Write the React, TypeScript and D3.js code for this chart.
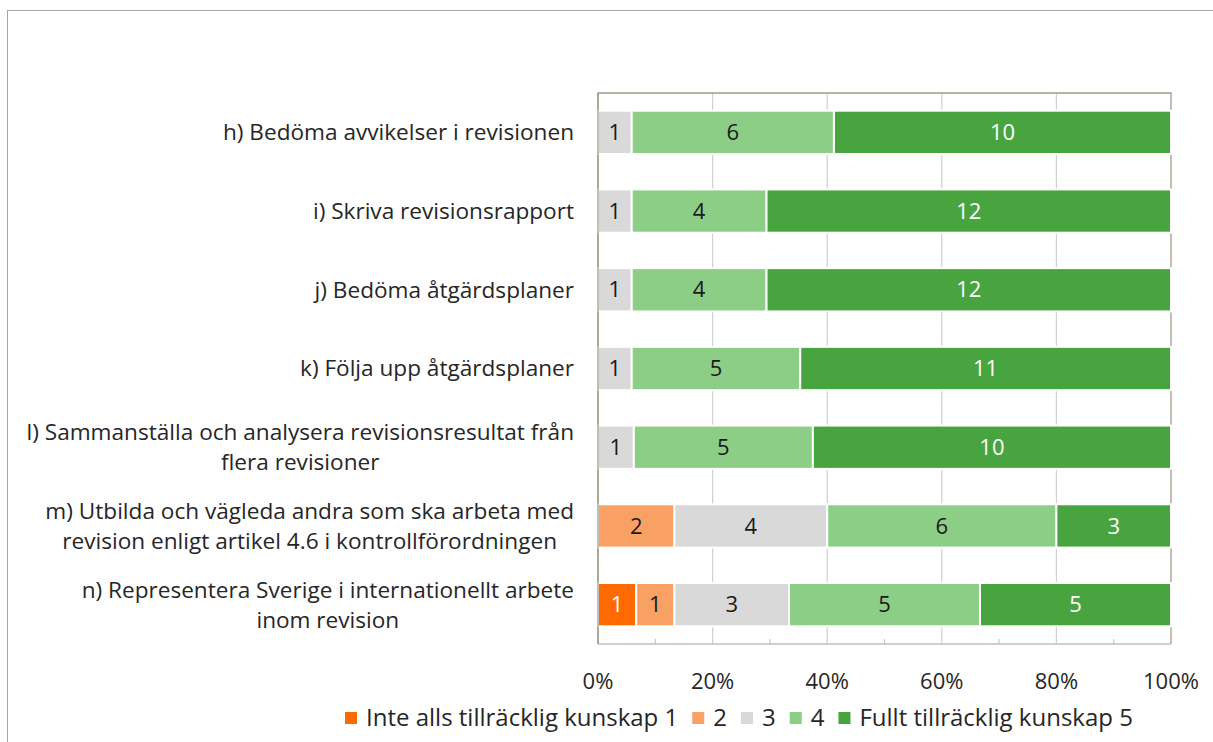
import React, { useEffect, useRef } from "react";
import * as d3 from "d3";

const categories = [
  ["h) Bedöma avvikelser i revisionen"],
  ["i) Skriva revisionsrapport"],
  ["j) Bedöma åtgärdsplaner"],
  ["k) Följa upp åtgärdsplaner"],
  ["l) Sammanställa och analysera revisionsresultat från", "flera revisioner"],
  ["m) Utbilda och vägleda andra som ska arbeta med", "revision enligt artikel 4.6 i kontrollförordningen"],
  ["n) Representera Sverige i internationellt arbete", "inom revision"],
];
const seriesNames = ["Inte alls tillräcklig kunskap 1", "2", "3", "4", "Fullt tillräcklig kunskap 5"];
const s1 = [0, 0, 0, 0, 0, 0, 1];
const s2 = [0, 0, 0, 0, 0, 2, 1];
const s3 = [1, 1, 1, 1, 1, 4, 3];
const s4 = [6, 4, 4, 5, 5, 6, 5];
const s5 = [10, 12, 12, 11, 10, 3, 5];
const colors = ["#FF6A00", "#F9A064", "#D9D9D9", "#8DCE86", "#48A43F"];
const labelColors = ["#ffffff", "#1a1a1a", "#1a1a1a", "#1a1a1a", "#ffffff"];
const ticks = [0, 0.2, 0.4, 0.6, 0.8, 1];

const FONT = "'Open Sans', 'Noto Sans', sans-serif";

export default function App() {
  const ref = useRef<SVGSVGElement>(null);
  useEffect(() => {
    const svg = d3.select(ref.current);
    svg.selectAll("*").remove();
    const W = 1213, H = 742;
    const left = 598, right = 1171, top = 93, bottom = 644;
    const series = [s1, s2, s3, s4, s5];

    svg.append("rect").attr("x", 7.5).attr("y", 10.5).attr("width", W - 7).attr("height", H).attr("fill", "#fff").attr("stroke", "#a6a6a6").attr("stroke-width", 1);

    const x = d3.scaleLinear().domain([0, 1]).range([left, right]);
    const y = d3.scaleBand<number>().domain(d3.range(categories.length)).range([top, bottom]).paddingInner(0.45).paddingOuter(0.225);

    const g = svg.append("g");
    ticks.slice(1, -1).forEach((t) => {
      g.append("line").attr("x1", x(t)).attr("x2", x(t)).attr("y1", top).attr("y2", bottom).attr("stroke", "#d0d0d0").attr("stroke-width", 1.2);
    });
    d3.range(0.1, 1, 0.2).forEach((t) => {
      g.append("line").attr("x1", x(t)).attr("x2", x(t)).attr("y1", bottom - 5).attr("y2", bottom).attr("stroke", "#c8c8c8").attr("stroke-width", 1.2);
    });
    g.append("path").attr("d", `M${left},${bottom}V${top}H${right}V${bottom}`).attr("fill", "none").attr("stroke", "#A19B8B").attr("stroke-width", 1.3);
    g.append("line").attr("x1", left).attr("x2", right).attr("y1", bottom).attr("y2", bottom).attr("stroke", "#bfbfbf").attr("stroke-width", 1.3);

    categories.forEach((_, i) => {
      const total = d3.sum(series, (s) => s[i]);
      let acc = 0;
      series.forEach((s, k) => {
        const v = s[i];
        if (!v) return;
        const x0 = x(acc / total), x1 = x((acc + v) / total);
        acc += v;
        g.append("rect").attr("x", x0).attr("y", y(i)!).attr("width", x1 - x0).attr("height", y.bandwidth())
          .attr("fill", colors[k]).attr("stroke", "#fff").attr("stroke-width", 2);
        g.append("text").attr("x", (x0 + x1) / 2).attr("y", y(i)! + y.bandwidth() / 2).attr("dy", "0.35em")
          .attr("text-anchor", "middle").attr("font-family", FONT).attr("font-size", 22).attr("fill", labelColors[k]).text(v);
      });
    });
    g.append("line").attr("x1", left).attr("x2", left).attr("y1", top).attr("y2", bottom).attr("stroke", "#A19B8B").attr("stroke-width", 1.3);

    ticks.forEach((t) => {
      g.append("text").attr("x", x(t)).attr("y", 681).attr("dy", "0.35em").attr("text-anchor", "middle")
        .attr("font-family", FONT).attr("font-size", 22).attr("fill", "#262626").text(d3.format(".0%")(t));
    });

    categories.forEach((lines, i) => {
      const cy = y(i)! + y.bandwidth() / 2;
      const tg = g.append("g");
      const lh = 30;
      const texts = lines.map((ln, j) =>
        tg.append("text").attr("y", cy + (j - (lines.length - 1) / 2) * lh).attr("dy", "0.35em").attr("text-anchor", "middle")
          .attr("font-family", FONT).attr("font-size", 22.6).attr("fill", "#262626").text(ln)
      );
      const maxW = d3.max(texts, (t) => (t.node() as SVGTextElement).getComputedTextLength()) || 0;
      texts.forEach((t) => t.attr("x", 574 - maxW / 2));
    });

    const lg = svg.append("g");
    let lx = 345;
    seriesNames.forEach((n, k) => {
      lg.append("rect").attr("x", lx).attr("y", 712).attr("width", 12).attr("height", 12).attr("fill", colors[k]);
      const t = lg.append("text").attr("x", lx + 21).attr("y", 718).attr("dy", "0.35em").attr("font-family", FONT)
        .attr("font-size", 24).attr("fill", "#262626").text(n);
      lx += 21 + (t.node() as SVGTextElement).getComputedTextLength() + 14;
    });
  }, []);
  return (
    <svg ref={ref} width={1213} height={742} style={{ position: "absolute", left: 0, top: 0 }} />
  );
}
